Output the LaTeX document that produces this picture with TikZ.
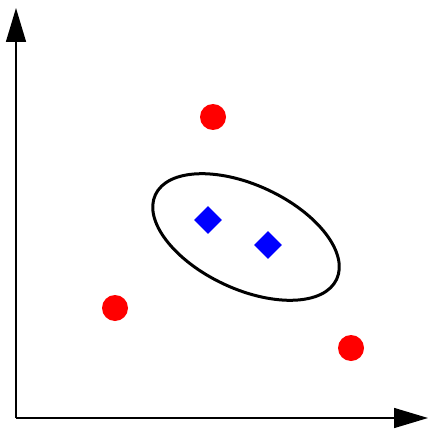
\documentclass[tikz,border=0pt]{standalone}
\usetikzlibrary{arrows.meta,shapes.geometric}
\begin{document}
\begin{tikzpicture}[x=1pt,y=1pt,
  axis/.style={line width=1.5pt,-{Triangle[length=34pt,width=20pt]}},
  redpt/.style={circle,fill=red,draw=none,minimum size=26pt,inner sep=0pt},
  bluept/.style={diamond,fill=blue,draw=none,minimum size=28pt,inner sep=0pt,aspect=1},
  ring/.style={draw=black,line width=3pt}]
\useasboundingbox (0,0) rectangle (430,429);
\fill[white] (0,0) rectangle (430,429);
\coordinate (o) at (16,11);
\coordinate (ytip) at (16,421);
\coordinate (xtip) at (428,11);
\draw[axis] (o) -- (ytip);
\draw[axis] (o) -- (xtip);
\node[redpt] (r1) at (213,312) {};
\node[redpt] (r2) at (115,121) {};
\node[redpt] (r3) at (351,81) {};
\coordinate (c) at (246,192);
\draw[ring,rotate around={-25:(c)}] (c) ellipse [x radius=100, y radius=52];
\node[bluept] (b1) at (208,209) {};
\node[bluept] (b2) at (268,184) {};
\end{tikzpicture}
\end{document}
